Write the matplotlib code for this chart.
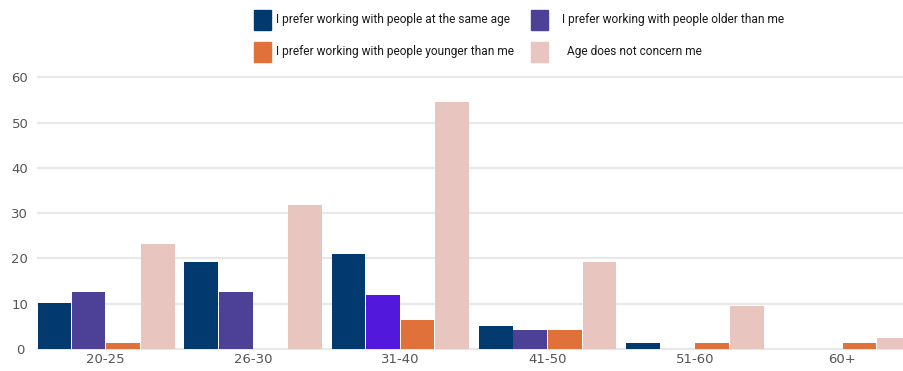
import matplotlib
matplotlib.use("Agg")
import matplotlib.pyplot as plt
from matplotlib.patches import Rectangle
import numpy as np

# Survey: preferred age of colleagues, by respondent age group
age_groups = ["20-25", "26-30", "31-40", "41-50", "51-60", "60+"]
same_age = [10.2, 19.2, 21.0, 5.1, 1.3, 0.0]
older = [12.6, 12.6, 11.9, 4.3, 0.0, 0.0]
younger = [1.3, 0.0, 6.5, 4.3, 1.3, 1.3]
not_concerned = [23.2, 31.8, 54.5, 19.2, 9.5, 2.5]

series_labels = [
    "I prefer working with people at the same age",
    "I prefer working with people older than me",
    "I prefer working with people younger than me",
    "Age does not concern me",
]
y_ticks = [0, 10, 20, 30, 40, 50, 60]

NAVY = "#023a6f"
PURPLE = "#4c4196"
PURPLE_HI = "#5219dc"
ORANGE = "#e0713a"
PINK = "#e8c6bf"

fig = plt.figure(figsize=(9.04, 3.71), dpi=100)
ax = fig.add_axes([0.042, 0.0593, 0.958, 0.7323])

x = np.arange(len(age_groups))
step = 0.235
width = 0.229
series = [same_age, older, younger, not_concerned]
colors = [NAVY, PURPLE, ORANGE, PINK]
for i, (vals, col) in enumerate(zip(series, colors)):
    cols = [col] * len(vals)
    if i == 1:
        cols[2] = PURPLE_HI  # highlighted bar in the 31-40 group
    ax.bar(x + (i - 1.5) * step, vals, width=width, color=cols, zorder=3)

ax.set_xlim(-0.46, 5.42)
ax.set_ylim(0, 60)
ax.set_yticks(y_ticks)
ax.set_xticks(x)
ax.set_xticklabels(age_groups)
ax.grid(axis="y", color="#e8e8e8", linewidth=1.6, zorder=0)
for gl in ax.get_ygridlines():
    gl.set_clip_on(False)
for s in ax.spines.values():
    s.set_visible(False)
ax.tick_params(axis="both", length=0, labelsize=9.5, labelcolor="#555555")
ax.tick_params(axis="y", pad=13)
ax.tick_params(axis="x", pad=3)
for lbl in ax.get_yticklabels():
    lbl.set_horizontalalignment("center")

# Legend drawn as patches and text in figure pixels
W, H = 904, 371
legend_items = [
    (254, 10, NAVY, 276, series_labels[0]),
    (531, 10, PURPLE, 562, series_labels[1]),
    (254, 42, ORANGE, 276, series_labels[2]),
    (531, 42, PINK, 567, series_labels[3]),
]
for px, py, col, tx, text in legend_items:
    fig.patches.append(Rectangle((px / W, 1 - (py + 20) / H), 17 / W, 20 / H,
                                 transform=fig.transFigure, color=col))
    fig.text(tx / W, 1 - (py + 9) / H, text, fontsize=8.6, family="Roboto",
             color="#1a1a1a", va="center", ha="left")

fig.savefig("out.png", dpi=100)
